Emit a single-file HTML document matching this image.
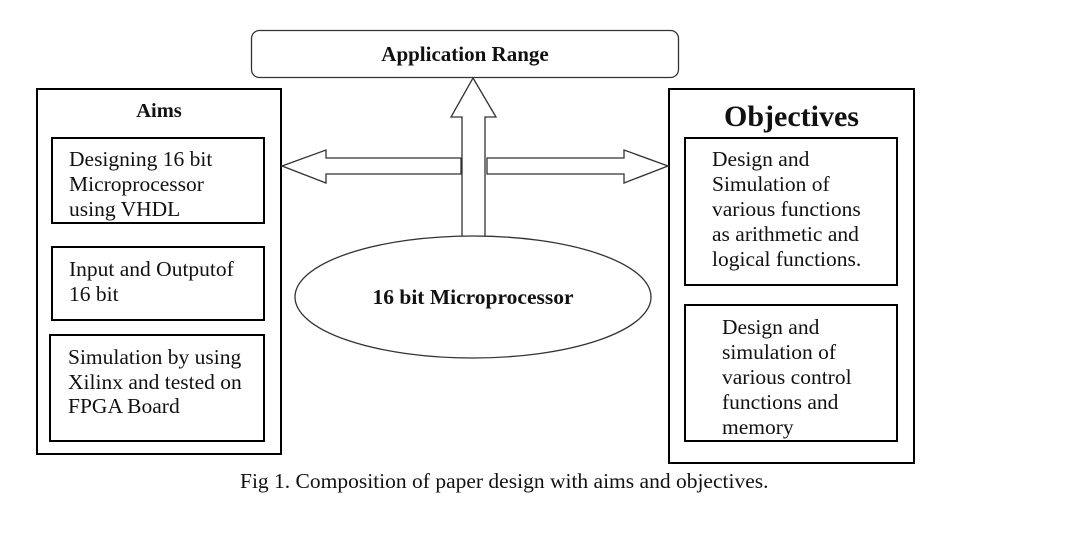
<!DOCTYPE html>
<html><head><style>
body{margin:0;background:#fff;width:1082px;height:539px;overflow:hidden;font-family:"Liberation Serif",serif;}
.t{position:absolute;font-size:21.5px;line-height:25px;color:#111;white-space:nowrap}
</style></head><body>
<svg width="1082" height="539" style="position:absolute;left:0;top:0">
<g fill="none" stroke="#000" stroke-width="2">
<rect x="37" y="89" width="244" height="365"/>
<rect x="52" y="138" width="212" height="85"/>
<rect x="52" y="247" width="212" height="73"/>
<rect x="50" y="335" width="214" height="106"/>
<rect x="669" y="89" width="245" height="374"/>
<rect x="685" y="138" width="212" height="147"/>
<rect x="685" y="305" width="212" height="136"/>
</g>
<rect x="251.5" y="30.5" width="427" height="47" rx="8" fill="#fff" stroke="#333" stroke-width="1.3"/>
<g fill="#fff" stroke="#333" stroke-width="1.3">
<polygon points="282,166 326,150 326,158 461,158 461,174 326,174 326,183"/>
<polygon points="668,166 624,150 624,158 487,158 487,174 624,174 624,183"/>
<polygon points="473,78 496,117 485,117 485,260 462,260 462,117 451,117"/>
<ellipse cx="473" cy="297" rx="178" ry="61"/>
</g>
</svg>
<div class="t" style="left:251px;top:42px;width:428px;text-align:center;font-weight:bold;font-size:21px">Application Range</div>
<div class="t" style="left:37px;top:99px;width:244px;text-align:center;font-weight:bold;font-size:20.5px">Aims</div>
<div class="t" style="left:69px;top:147px">Designing 16 bit<br>Microprocessor<br>using VHDL</div>
<div class="t" style="left:69px;top:257px">Input and Outputof<br>16 bit</div>
<div class="t" style="left:68px;top:345px;line-height:24.5px">Simulation by using<br>Xilinx and tested on<br>FPGA Board</div>
<div class="t" style="left:669px;top:101px;width:245px;text-align:center;font-weight:bold;font-size:30px;line-height:32px">Objectives</div>
<div class="t" style="left:712px;top:147px">Design and<br>Simulation of<br>various functions<br>as arithmetic and<br>logical functions.</div>
<div class="t" style="left:722px;top:315px">Design and<br>simulation of<br>various control<br>functions and<br>memory</div>
<div class="t" style="left:295px;top:285px;width:356px;text-align:center;font-weight:bold;font-size:21.5px">16 bit Microprocessor</div>
<div class="t" style="left:240px;top:469px;font-size:21.5px">Fig 1. Composition of paper design with aims and objectives.</div>
</body></html>
